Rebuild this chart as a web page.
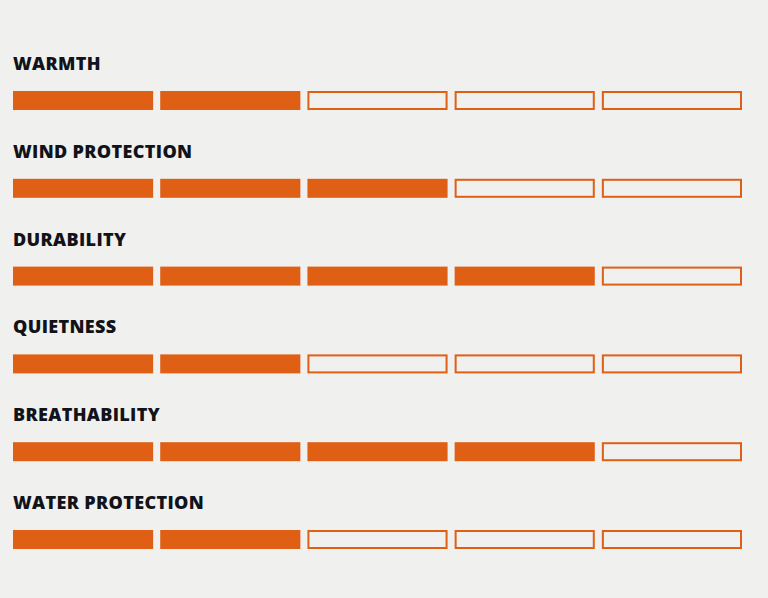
<!DOCTYPE html>
<html lang="en">
  <head>
    <meta charset="UTF-8" />
    <title>Product ratings</title>
    <script src="https://d3js.org/d3.v7.min.js"></script>
    <style>
      body {
        margin: 0;
        background: #f0f0ef;
      }
      .label {
        font-family: "Open Sans", sans-serif;
        font-weight: 800;
        font-size: 18px;
        letter-spacing: 0.35px;
        fill: #111318;
      }
    </style>
  </head>
  <body>
    <div id="chart"></div>

    <script>
      // Ratings data
      const categories = [
        "WARMTH",
        "WIND PROTECTION",
        "DURABILITY",
        "QUIETNESS",
        "BREATHABILITY",
        "WATER PROTECTION",
      ];
      const ratings = [2, 3, 4, 2, 4, 2];
      const maxRating = 5;

      const width = 768;
      const height = 598;
      const orange = "#df5f15";

      const svg = d3
        .select("#chart")
        .append("svg")
        .attr("width", width)
        .attr("height", height);

      // rows: one band per category
      const y = d3
        .scaleBand()
        .domain(categories)
        .range([91, 91 + 87.8 * categories.length]);

      // segments within a row
      const x = d3
        .scaleBand()
        .domain(d3.range(maxRating))
        .range([13, 742])
        .paddingInner(0.048);

      const barH = 19;

      const rows = svg
        .selectAll(".row")
        .data(categories.map((c, i) => ({ name: c, value: ratings[i] })))
        .enter()
        .append("g")
        .attr("class", "row")
        .attr("transform", (d) => `translate(0, ${y(d.name)})`);

      rows
        .append("text")
        .attr("class", "label")
        .attr("x", 13)
        .attr("y", -21)
        .text((d) => d.name);

      rows
        .selectAll("rect")
        .data((d) => d3.range(maxRating).map((k) => ({ k, filled: k < d.value })))
        .enter()
        .append("rect")
        .attr("x", (s) => (s.filled ? x(s.k) : x(s.k) + 1))
        .attr("y", (s) => (s.filled ? 0 : 1))
        .attr("width", (s) => (s.filled ? x.bandwidth() : x.bandwidth() - 2))
        .attr("height", (s) => (s.filled ? barH : barH - 2))
        .attr("fill", (s) => (s.filled ? orange : "none"))
        .attr("stroke", (s) => (s.filled ? "none" : orange))
        .attr("stroke-width", 2);
    </script>
  </body>
</html>
